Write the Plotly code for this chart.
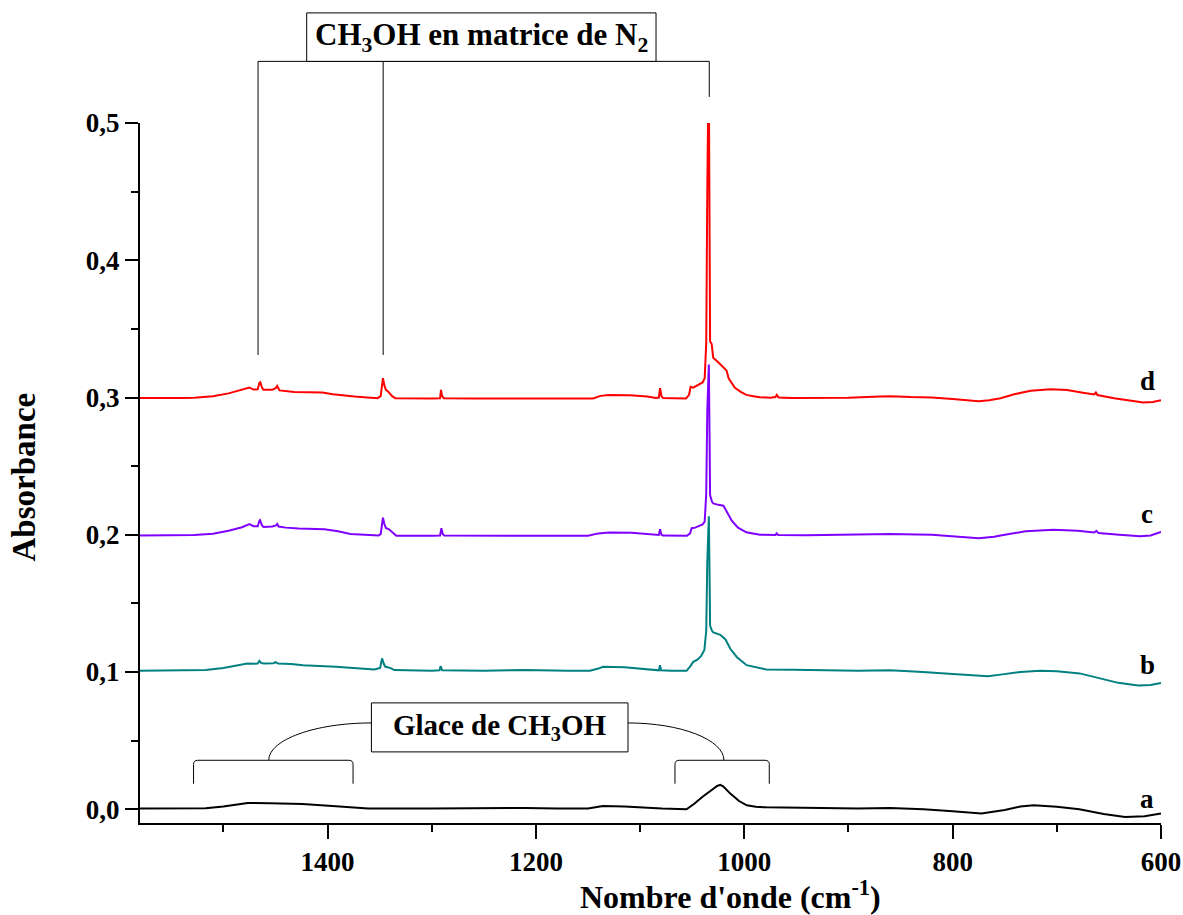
import plotly.graph_objects as go

# spectrum d (red), offset 0.3
wn_d = [1580, 1560, 1540, 1528, 1510, 1495, 1482, 1475, 1471, 1467, 1465.5, 1464.5, 1463, 1461.5,
        1453, 1449.5, 1448.4, 1447, 1446, 1432, 1415, 1405, 1395, 1385, 1374, 1362, 1352, 1349,
        1347.5, 1346.8, 1345.5, 1344, 1341.7, 1338, 1335, 1320, 1300, 1292, 1291.1, 1290, 1288.5,
        1260, 1200, 1160, 1145, 1138, 1130, 1110, 1093, 1085, 1082, 1080.8, 1079.5, 1078, 1056,
        1053, 1051.5, 1049, 1047, 1043, 1040, 1038, 1036.5, 1035.5, 1034.8, 1033.8, 1033.2,
        1032.8, 1031.3, 1029.8, 1025, 1020, 1017, 1015, 1009, 1003, 998, 990, 985, 975, 970,
        968.8, 967, 955, 937, 900, 870, 860, 840, 820, 800, 785, 775, 765, 754, 740, 725, 706,
        690, 675, 664, 662.5, 661, 645, 630, 617, 608, 600]
abs_d = [0.2997, 0.2995, 0.2997, 0.2999, 0.3010, 0.3030, 0.3055, 0.3072, 0.3058, 0.3060, 0.3105,
         0.3111, 0.3075, 0.3056, 0.3056, 0.3070, 0.3084, 0.3062, 0.3052, 0.3040, 0.3037, 0.3036,
         0.3024, 0.3015, 0.3007, 0.3000, 0.2995, 0.3010, 0.3130, 0.3141, 0.3090, 0.3056, 0.3043,
         0.3010, 0.2995, 0.2992, 0.2992, 0.2994, 0.3056, 0.3010, 0.2995, 0.2993, 0.2992, 0.2992,
         0.2993, 0.3012, 0.3019, 0.3016, 0.3007, 0.2997, 0.3000, 0.3068, 0.3010, 0.2997, 0.2992,
         0.3020, 0.3078, 0.3072, 0.3080, 0.3095, 0.3110, 0.3140, 0.3400, 0.4500, 0.5000, 0.5000,
         0.4200, 0.3410, 0.3390, 0.3290, 0.3257, 0.3223, 0.3196, 0.3140, 0.3070, 0.3040, 0.3019,
         0.3008, 0.3002, 0.2998, 0.3004, 0.3019, 0.3000, 0.2996, 0.2995, 0.2998, 0.3008, 0.3010,
         0.3003, 0.3000, 0.2990, 0.2978, 0.2972, 0.2980, 0.2995, 0.3025, 0.3050, 0.3060, 0.3055,
         0.3035, 0.3022, 0.3036, 0.3018, 0.2995, 0.2975, 0.2963, 0.2968, 0.2980]

# spectrum c (purple), offset 0.2
wn_c = [1580, 1540, 1528, 1510, 1495, 1482, 1475, 1471, 1467, 1465.5, 1464.8, 1463, 1461.5, 1453,
        1449.5, 1448.2, 1447, 1440, 1428, 1403, 1390, 1378, 1365, 1351, 1349, 1347.5, 1346.8,
        1345.5, 1344, 1341, 1337, 1334, 1300, 1292, 1290.7, 1289.5, 1288, 1200, 1150, 1140, 1130,
        1108, 1090, 1082, 1080.8, 1079.5, 1078, 1055, 1052, 1050.5, 1047, 1043, 1040, 1038,
        1036.5, 1035.5, 1034.6, 1034.0, 1033.3, 1032.8, 1031, 1029.7, 1025, 1020, 1017, 1015,
        1012, 1006, 998, 985, 970, 969, 967.5, 940, 900, 860, 820, 790, 775, 760, 754, 730, 703,
        680, 664, 662, 660, 640, 620, 610, 600]
abs_c = [0.1995, 0.1995, 0.1998, 0.2008, 0.2030, 0.2055, 0.2078, 0.2062, 0.2062, 0.2100, 0.2106,
         0.2070, 0.2056, 0.2060, 0.2068, 0.2078, 0.2060, 0.2052, 0.2045, 0.2040, 0.2025, 0.2005,
         0.1998, 0.1994, 0.2005, 0.2110, 0.2124, 0.2080, 0.2049, 0.2040, 0.2010, 0.1993, 0.1993,
         0.1995, 0.2048, 0.2005, 0.1994, 0.1993, 0.1993, 0.2010, 0.2017, 0.2015, 0.2005, 0.1998,
         0.2040, 0.2000, 0.1994, 0.1993, 0.2010, 0.2048, 0.2052, 0.2062, 0.2075, 0.2095, 0.2300,
         0.2900, 0.3240, 0.3240, 0.2700, 0.2290, 0.2240, 0.2228, 0.2218, 0.2212, 0.2171, 0.2140,
         0.2103, 0.2052, 0.2018, 0.2001, 0.1998, 0.2010, 0.1998, 0.1996, 0.1998, 0.2005, 0.2000,
         0.1985, 0.1975, 0.1985, 0.1995, 0.2025, 0.2037, 0.2030, 0.2016, 0.2028, 0.2012, 0.2000,
         0.1990, 0.1995, 0.2020]

# spectrum b (teal), offset 0.1
wn_b = [1580, 1540, 1517, 1500, 1485, 1477, 1471, 1467, 1465.4, 1463.5, 1461, 1452, 1449.7, 1447.5,
        1435, 1423.5, 1392, 1375, 1355, 1349.5, 1347.7, 1346, 1344.5, 1340, 1335.8, 1300, 1292.5,
        1291.4, 1290, 1250, 1210, 1170, 1148, 1140, 1135.6, 1115, 1095, 1085.4, 1081.9, 1080.9,
        1079.8, 1070, 1055.4, 1052, 1049, 1045, 1041.5, 1038.3, 1036.5, 1035.5, 1034.6, 1034.0,
        1033.3, 1032.8, 1031, 1029.7, 1023, 1018, 1013.4, 1007, 997.7, 991.5, 985, 979, 953, 891,
        860, 828.6, 800, 766, 754, 735, 716, 700, 678, 659, 641, 622, 610, 600]
abs_b = [0.1009, 0.1010, 0.1015, 0.1030, 0.1050, 0.1062, 0.1060, 0.1062, 0.1081, 0.1065, 0.1062,
         0.1064, 0.1072, 0.1062, 0.1058, 0.1050, 0.1038, 0.1028, 0.1019, 0.1030, 0.1099, 0.1060,
         0.1038, 0.1030, 0.1014, 0.1010, 0.1012, 0.1043, 0.1012, 0.1010, 0.1015, 0.1010, 0.1009,
         0.1025, 0.1038, 0.1035, 0.1022, 0.1012, 0.1012, 0.1050, 0.1012, 0.1010, 0.1009, 0.1040,
         0.1074, 0.1090, 0.1116, 0.1160, 0.1300, 0.1800, 0.2134, 0.2134, 0.1700, 0.1339, 0.1300,
         0.1288, 0.1271, 0.1237, 0.1169, 0.1108, 0.1050, 0.1038, 0.1027, 0.1019, 0.1016, 0.1009,
         0.1012, 0.1001, 0.0985, 0.0970, 0.0981, 0.1000, 0.1010, 0.1005, 0.0990, 0.0954, 0.0921,
         0.0902, 0.0905, 0.0920]

# spectrum a (black), methanol ice
wn_a = [1580, 1540, 1517, 1500, 1485, 1476.7, 1455, 1424, 1392, 1375, 1361, 1300, 1250, 1210, 1180,
        1150, 1140, 1135.6, 1115, 1090, 1079, 1055.4, 1048, 1040.3, 1032, 1026, 1023, 1020,
        1013.4, 1005, 997.6, 989, 978.9, 940, 891.3, 860, 828, 800, 772.3, 750, 735, 722.2, 700,
        678.4, 655, 634.5, 615.8, 600]
abs_a = [0.0005, 0.0005, 0.0008, 0.0020, 0.0038, 0.0046, 0.0043, 0.0038, 0.0022, 0.0010, 0.0005,
         0.0005, 0.0007, 0.0010, 0.0005, 0.0005, 0.0018, 0.0024, 0.0020, 0.0008, 0.0005, 0.0000,
         0.0040, 0.0090, 0.0135, 0.0170, 0.0178, 0.0165, 0.0114, 0.0060, 0.0029, 0.0018, 0.0014,
         0.0008, 0.0005, 0.0010, 0.0000, -0.0015, -0.0031, -0.0005, 0.0020, 0.0029, 0.0018,
         0.0000, -0.0035, -0.0056, -0.0050, -0.0030]

curve_labels = ["a", "b", "c", "d"]
label_pos_y = [0.0075, 0.105, 0.2154, 0.3117]
label_pos_x = 613

y_ticks = [0.0, 0.1, 0.2, 0.3, 0.4, 0.5]
y_ticktext = ["0,0", "0,1", "0,2", "0,3", "0,4", "0,5"]

X0, X1 = 1580, 600
Y0, Y1 = -0.01, 0.5
FONT = "Liberation Serif, Times New Roman, serif"


def xp(v):
    return (X0 - v) / (X0 - X1)


def yp(v):
    return (v - Y0) / (Y1 - Y0)


fig = go.Figure()
for wn, ab, col in [(wn_a, abs_a, "#000000"), (wn_b, abs_b, "#008080"),
                    (wn_c, abs_c, "#8000FF"), (wn_d, abs_d, "#FF0000")]:
    fig.add_trace(go.Scatter(x=wn, y=ab, mode="lines", line=dict(color=col, width=2),
                             showlegend=False, hoverinfo="skip"))

shapes = []
ln = dict(color="black", width=1)

# "CH3OH en matrice de N2" bracket (above the plot)
top_y = 0.5449
for xv, yb in [(1466.7, 0.331), (1346.6, 0.331), (1033.6, 0.519)]:
    shapes.append(dict(type="line", xref="paper", yref="paper", x0=xp(xv), x1=xp(xv),
                       y0=yp(top_y), y1=yp(yb), line=ln))
shapes.append(dict(type="line", xref="paper", yref="paper", x0=xp(1466.7), x1=xp(1033.6),
                   y0=yp(top_y), y1=yp(top_y), line=ln))
shapes.append(dict(type="rect", xref="paper", yref="paper", x0=xp(1420.0), x1=xp(1084.7),
                   y0=yp(top_y), y1=yp(0.5802), line=ln, fillcolor="white"))

# "Glace de CH3OH" box, arcs and brackets
shapes.append(dict(type="rect", xref="paper", yref="paper", x0=xp(1357.9), x1=xp(1111.6),
                   y0=yp(0.0418), y1=yp(0.0775), line=ln, fillcolor="white"))
arc_y, br_y, br_b = 0.0629, 0.0357, 0.0186
for xs, xe in [(1357.9, 1456.4), (1111.6, 1019.5)]:
    c1 = xs + 0.55 * (xe - xs)
    c2y = br_y + 0.55 * (arc_y - br_y)
    path = "M {},{} C {},{} {},{} {},{}".format(xp(xs), yp(arc_y), xp(c1), yp(arc_y),
                                                 xp(xe), yp(c2y), xp(xe), yp(br_y))
    shapes.append(dict(type="path", xref="paper", yref="paper", path=path, line=ln))
for xl, xr in [(1528.6, 1375.5), (1066.5, 976.0)]:
    r = 0.003
    path = ("M {},{} L {},{} Q {},{} {},{} L {},{} Q {},{} {},{} L {},{}"
            .format(xp(xl), yp(br_b), xp(xl), yp(br_y - r),
                    xp(xl), yp(br_y), xp(xl - 4), yp(br_y),
                    xp(xr + 4), yp(br_y),
                    xp(xr), yp(br_y), xp(xr), yp(br_y - r),
                    xp(xr), yp(br_b)))
    shapes.append(dict(type="path", xref="paper", yref="paper", path=path, line=ln))

annotations = [
    dict(text="CH<sub>3</sub>OH en matrice de N<sub>2</sub>", xref="paper", yref="paper",
         x=xp(1252.4), y=yp(0.5630), showarrow=False, xanchor="center", yanchor="middle",
         font=dict(family=FONT, size=31, color="black", weight="bold")),
    dict(text="Glace de CH<sub>3</sub>OH", xref="paper", yref="paper",
         x=xp(1234.8), y=yp(0.0600), showarrow=False, xanchor="center", yanchor="middle",
         font=dict(family=FONT, size=29, color="black", weight="bold")),
    dict(text="Nombre d'onde (cm<sup>-1</sup>)", xref="paper", yref="paper", x=0.578, y=-0.103,
         showarrow=False, xanchor="center", yanchor="middle",
         font=dict(family=FONT, size=32, color="black", weight="bold")),
    dict(text="Absorbance", xref="paper", yref="paper", x=-0.1136, y=0.4936, textangle=-90,
         showarrow=False, xanchor="center", yanchor="middle",
         font=dict(family=FONT, size=33, color="black", weight="bold")),
]
for lab, yv in zip(curve_labels, label_pos_y):
    annotations.append(dict(text=lab, x=label_pos_x, y=yv, xref="x", yref="y", showarrow=False,
                            xanchor="center", yanchor="middle",
                            font=dict(family=FONT, size=27, color="black", weight="bold")))

fig.update_layout(
    width=1183, height=915,
    margin=dict(l=140, r=22, t=123, b=92),
    paper_bgcolor="white", plot_bgcolor="white",
    shapes=shapes, annotations=annotations,
    xaxis=dict(range=[X0, X1], showgrid=False, zeroline=False, showline=True, automargin=False,
               linecolor="black", linewidth=2, ticks="outside", ticklen=14, tickwidth=2,
               tickcolor="black", tick0=0, dtick=200,
               tickfont=dict(family=FONT, size=27, color="black", weight="bold"),
               minor=dict(ticks="outside", ticklen=7, tickwidth=2, tickcolor="black",
                          dtick=100, tick0=0)),
    yaxis=dict(range=[Y0, Y1], showgrid=False, zeroline=False, showline=True, automargin=False,
               linecolor="black", linewidth=2, ticks="outside", ticklen=13, tickwidth=2,
               tickcolor="black", tickmode="array", tickvals=y_ticks, ticktext=y_ticktext,
               tickfont=dict(family=FONT, size=27, color="black", weight="bold"),
               minor=dict(ticks="outside", ticklen=7, tickwidth=2, tickcolor="black",
                          dtick=0.05, tick0=0)),
)

# page body has a default 8px margin; drop it so the figure sits at the window origin
fig.write_html("out.html", config={"displayModeBar": False},
               post_script="document.body.style.margin='0px';")
